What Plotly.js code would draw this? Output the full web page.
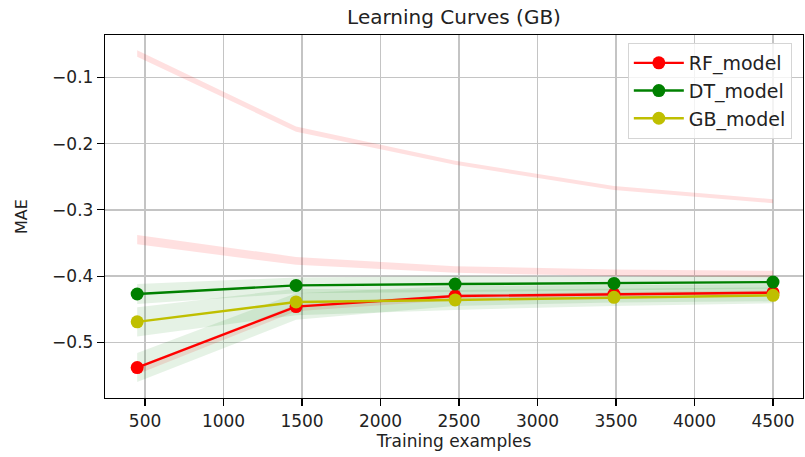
<!DOCTYPE html>
<html>
<head>
<meta charset="utf-8">
<script src="https://cdn.plot.ly/plotly-3.0.1.min.js"></script>
<style>html,body{margin:0;padding:0;background:#fff;}#chart{width:805px;height:457px;}</style>
</head>
<body>
<div id="chart"></div>
<script>
// Training sizes
var trainSizes = [450, 1462, 2475, 3487, 4500];

// Test (validation) curves - negative MAE
var rfTestMean = [-0.538, -0.446, -0.430, -0.427, -0.425];
var rfTestStd  = [0.022, 0.020, 0.015, 0.013, 0.013];
var dtTestMean = [-0.427, -0.414, -0.412, -0.411, -0.409];
var dtTestStd  = [0.015, 0.012, 0.012, 0.010, 0.010];
var gbTestMean = [-0.469, -0.439, -0.436, -0.432, -0.429];
var gbTestStd  = [0.022, 0.020, 0.015, 0.013, 0.012];

// Training score bands (only the shaded bands are visible)
var trainAMean = [-0.064, -0.178, -0.229, -0.267, -0.287];
var trainAStd  = [0.005, 0.004, 0.003, 0.003, 0.003];
var trainBMean = [-0.345, -0.377, -0.390, -0.395, -0.397];
var trainBStd  = [0.007, 0.006, 0.005, 0.005, 0.005];
var trainCMean = [-0.542, -0.448, -0.432, -0.428, -0.426];
var trainCStd  = [0.006, 0.005, 0.004, 0.004, 0.004];

var modelNames = ['RF_model', 'DT_model', 'GB_model'];

function band(mean, std, color) {
  var up = mean.map(function(m, i){ return m + std[i]; });
  var lo = mean.map(function(m, i){ return m - std[i]; });
  return [
    {x: trainSizes, y: up, mode: 'lines', line: {width: 0, color: color}, showlegend: false, hoverinfo: 'skip'},
    {x: trainSizes, y: lo, mode: 'lines', line: {width: 0, color: color}, fill: 'tonexty', fillcolor: color, showlegend: false, hoverinfo: 'skip'}
  ];
}

var pink = 'rgba(255,0,0,0.12)';
var green = 'rgba(0,128,0,0.1)';

var traces = [];
traces = traces.concat(band(trainAMean, trainAStd, pink));
traces = traces.concat(band(trainBMean, trainBStd, pink));
traces = traces.concat(band(trainCMean, trainCStd, pink));
traces = traces.concat(band(rfTestMean, rfTestStd, green));
traces = traces.concat(band(dtTestMean, dtTestStd, green));
traces = traces.concat(band(gbTestMean, gbTestStd, green));

var lineDefs = [
  {y: rfTestMean, color: '#ff0000', name: modelNames[0]},
  {y: dtTestMean, color: '#008000', name: modelNames[1]},
  {y: gbTestMean, color: '#bfbf00', name: modelNames[2]}
];
lineDefs.forEach(function(d){
  traces.push({x: trainSizes, y: d.y, name: d.name, mode: 'lines+markers',
    line: {color: d.color, width: 2.4}, marker: {color: d.color, size: 13}});
});

var axisCommon = {
  showline: true, linecolor: '#000', linewidth: 1.2, mirror: true,
  ticks: 'outside', ticklen: 7, tickwidth: 1.2, tickcolor: '#000',
  showgrid: true, gridcolor: '#c4c4c4', gridwidth: 1.6, zeroline: false,
  tickfont: {family: 'DejaVu Sans', size: 17, color: '#222'}
};

var layout = {
  width: 805, height: 457,
  margin: {l: 105, r: 2, t: 35, b: 59},
  paper_bgcolor: '#fff', plot_bgcolor: '#fff',
  font: {family: 'DejaVu Sans', color: '#222'},
  title: {text: 'Learning Curves (GB)', font: {family: 'DejaVu Sans', size: 20, color: '#222'}, x: 0.564, xanchor: 'center', y: 0.962, yanchor: 'middle'},
  xaxis: Object.assign({}, axisCommon, {range: [245, 4691], tick0: 500, dtick: 500,
    title: {text: 'Training examples', font: {family: 'DejaVu Sans', size: 17, color: '#222'}, standoff: 3}}),
  yaxis: Object.assign({}, axisCommon, {range: [-0.584, -0.036], dtick: 0.1, tickformat: '.1f',
    title: {text: 'MAE', font: {family: 'DejaVu Sans', size: 16, color: '#222'}, standoff: 20}}),
  legend: {x: 0.984, y: 0.978, xanchor: 'right', yanchor: 'top', traceorder: 'normal',
    bgcolor: 'rgba(255,255,255,0.8)', bordercolor: '#d5d5d5', borderwidth: 1, itemwidth: 50,
    font: {family: 'DejaVu Sans', size: 19, color: '#222'}, tracegroupgap: 0},
  showlegend: true
};

Plotly.newPlot('chart', traces, layout, {displayModeBar: false, staticPlot: true});
</script>
</body>
</html>
